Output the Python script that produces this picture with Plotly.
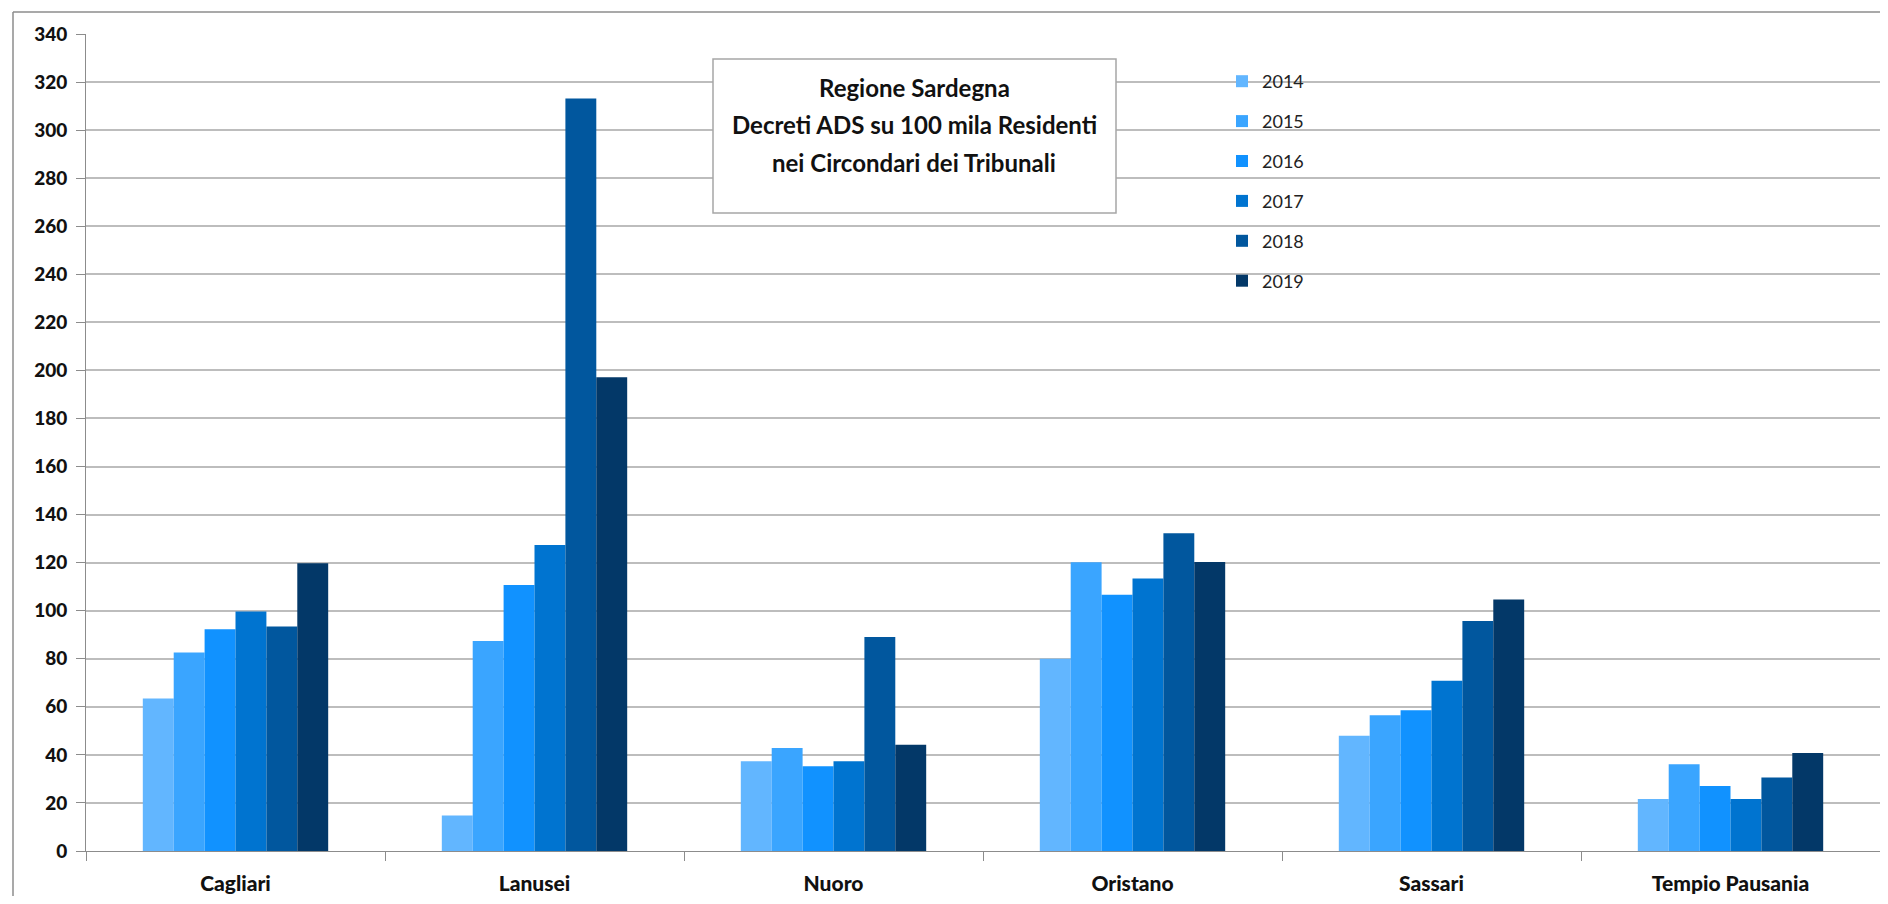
import plotly.graph_objects as go

# tribunali (circondari) and years
circondari = ["Cagliari", "Lanusei", "Nuoro", "Oristano", "Sassari", "Tempio Pausania"]
anni = ["2014", "2015", "2016", "2017", "2018", "2019"]

# decreti ADS per 100 mila residenti, one list per year
v2014 = [63.5, 14.8, 37.4, 80.0, 48.0, 21.6]
v2015 = [82.6, 87.4, 42.9, 120.2, 56.5, 36.1]
v2016 = [92.3, 110.7, 35.3, 106.6, 58.6, 27.0]
v2017 = [99.7, 127.3, 37.4, 113.4, 70.9, 21.6]
v2018 = [93.4, 313.2, 89.1, 132.2, 95.7, 30.6]
v2019 = [119.8, 197.2, 44.2, 120.3, 104.7, 40.8]

valori = [v2014, v2015, v2016, v2017, v2018, v2019]
colori = ["#62b6ff", "#3aa5ff", "#1192ff", "#0074d0", "#01579e", "#033868"]

fig = go.Figure()
for i, (anno, vals) in enumerate(zip(anni, valori)):
    fig.add_trace(go.Bar(
        x=circondari,
        y=vals,
        name=anno,
        legendgroup=anno,
        marker=dict(color=colori[i], line=dict(width=0)),
    ))

# the page body has an 8px margin, so the figure starts at (8, 8) on screen
OFF = 8
W, H = 1888 - 2 * OFF, 904 - 2 * OFF
X0, X1 = 86, 1880          # plot area, screen px
Y0, Y1 = 34, 851
L, R, T, B = X0 - OFF, OFF + W - X1, Y0 - OFF, OFF + H - Y1
pw, ph = X1 - X0, Y1 - Y0

def px_x(x):
    return (x - X0) / pw

def px_y(y):
    return (Y1 - y) / ph

fig.update_layout(
    width=W, height=H,
    margin=dict(l=L, r=R, t=T, b=B, autoexpand=False),
    paper_bgcolor="white",
    plot_bgcolor="white",
    barmode="group",
    bargap=0.38,
    bargroupgap=0,
    font=dict(family="Lato, Arial, sans-serif", color="#1a1a1a"),
    showlegend=True,
    legend=dict(
        x=px_x(1222), y=px_y(63), xanchor="left", yanchor="top",
        bgcolor="rgba(0,0,0,0)",
        font=dict(size=18, color="#222222"),
        tracegroupgap=13.5,
        itemwidth=30,
    ),
    xaxis=dict(
        type="category",
        showgrid=False,
        showline=True, linecolor="#8c8c8c", linewidth=1,
        ticks="outside", tickson="boundaries", ticklen=9, tickcolor="#8c8c8c",
        tickfont=dict(size=21, color="#111111", family="Lato Black, Lato, sans-serif"),
        ticklabelstandoff=14,
        fixedrange=True,
    ),
    yaxis=dict(
        range=[0, 340],
        dtick=20,
        showgrid=True, gridcolor="#bdbdbd", gridwidth=1.5,
        showline=True, linecolor="#8c8c8c", linewidth=1,
        ticks="outside", ticklen=9, tickcolor="#8c8c8c",
        tickfont=dict(size=19, color="#111111", family="Lato Black, Lato, sans-serif"),
        ticklabelstandoff=5,
        zeroline=False,
        fixedrange=True,
    ),
)

# outer chart frame (left and top edges visible)
fig.add_shape(type="line", xref="paper", yref="paper",
              x0=px_x(13), x1=px_x(13), y0=px_y(12), y1=px_y(910),
              line=dict(color="#8c8c8c", width=1.5))
fig.add_shape(type="line", xref="paper", yref="paper",
              x0=px_x(13), x1=px_x(1900), y0=px_y(12), y1=px_y(12),
              line=dict(color="#8c8c8c", width=1.5))

# title box
fig.add_shape(type="rect", xref="paper", yref="paper",
              x0=px_x(713), x1=px_x(1116), y0=px_y(213), y1=px_y(59),
              fillcolor="white", line=dict(color="#a6a6a6", width=1.5), layer="above")

titolo = ["Regione Sardegna",
          "Decreti ADS su 100 mila Residenti",
          "nei Circondari dei Tribunali"]
for riga, yy in zip(titolo, [87, 125, 162]):
    fig.add_annotation(
        text="<b>" + riga + "</b>", xref="paper", yref="paper",
        x=px_x(914), y=px_y(yy), xanchor="center", yanchor="middle",
        showarrow=False, font=dict(size=24, color="#111111"),
    )

fig.write_html("out.html")
